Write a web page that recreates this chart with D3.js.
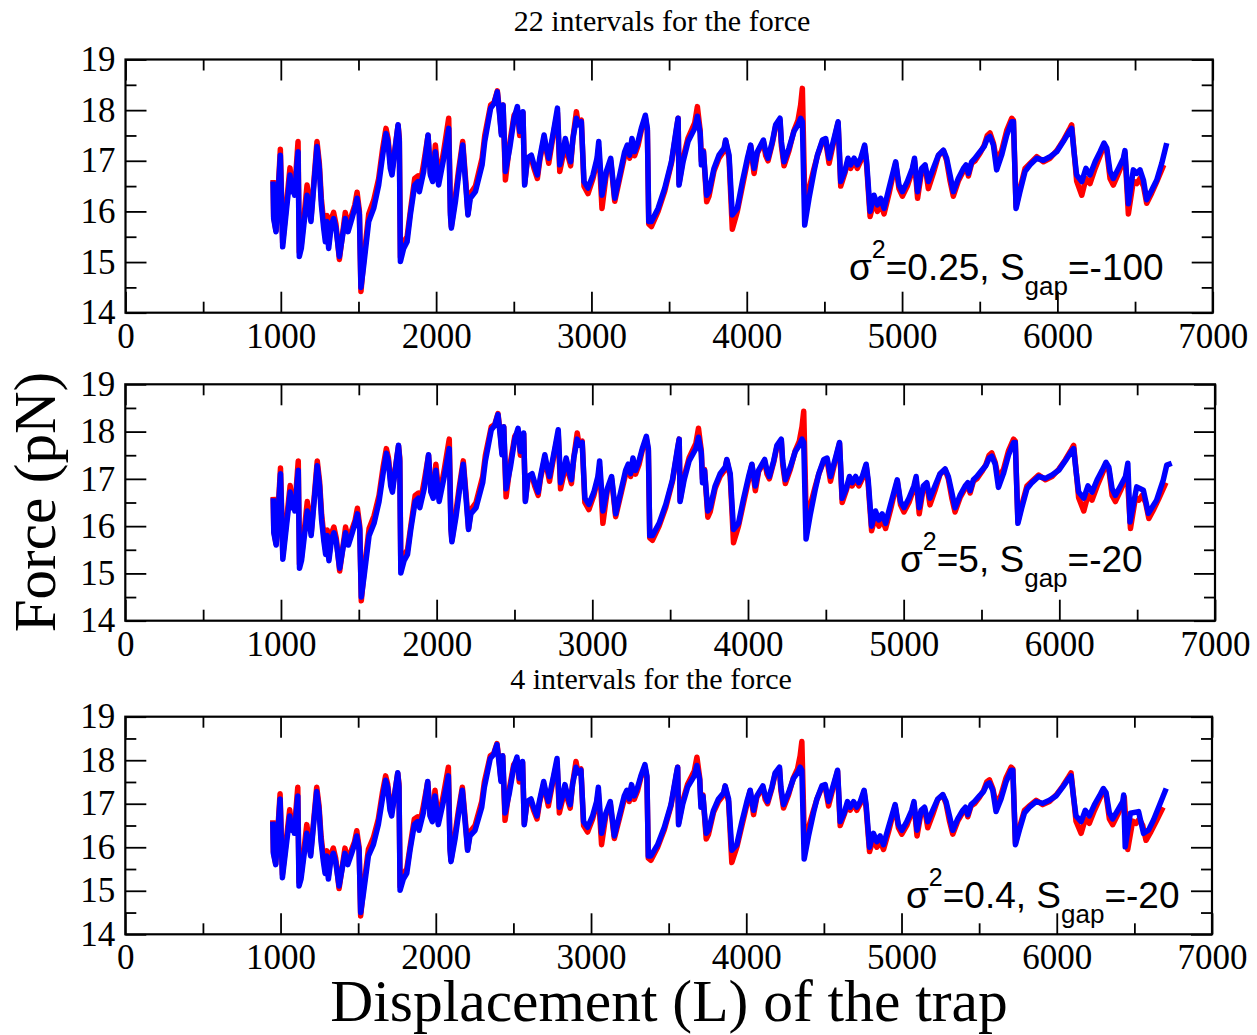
<!DOCTYPE html>
<html>
<head>
<meta charset="utf-8">
<script src="https://cdn.jsdelivr.net/npm/d3@7"></script>
<style>
  body { margin: 0; background: #fff; }
  svg { display: block; }
</style>
</head>
<body>
<svg id="chart" width="1257" height="1035"></svg>
<script>
// Trap displacement (L) shared by the measured curve and the fitted curves
const displacement = [
  950, 954, 969, 997, 1012, 1046, 1059, 1072, 1083, 1089,
  1111, 1119, 1132, 1169, 1184, 1194, 1233, 1248, 1261, 1276,
  1287, 1297, 1308, 1325, 1340, 1355, 1377, 1415, 1433, 1458,
  1476, 1491, 1506, 1516, 1534, 1566, 1598, 1630, 1656, 1677,
  1690, 1705, 1716, 1755, 1763, 1770, 1791, 1813, 1834, 1862,
  1883, 1892, 1920, 1948, 1963, 1978, 1995, 2016, 2049, 2081,
  2092, 2098, 2124, 2145, 2171, 2192, 2205, 2220, 2253, 2296,
  2313, 2351, 2373, 2394, 2409, 2420, 2431, 2446, 2474, 2502,
  2523, 2538, 2549, 2559, 2570, 2587, 2613, 2630, 2652, 2667,
  2695, 2710, 2725, 2759, 2781, 2796, 2817, 2832, 2849, 2866,
  2881, 2903, 2914, 2935, 2952, 2978, 3010, 3036, 3047, 3068,
  3096, 3124, 3150, 3182, 3214, 3231, 3246, 3261, 3278, 3300,
  3321, 3347, 3360, 3369, 3386, 3429, 3472, 3515, 3547, 3558,
  3564, 3590, 3622, 3665, 3682, 3700, 3708, 3721, 3742, 3757,
  3789, 3821, 3854, 3864, 3886, 3907, 3939, 3972, 4004, 4025,
  4047, 4068, 4107, 4122, 4137, 4165, 4186, 4214, 4223, 4240,
  4272, 4304, 4330, 4347, 4358, 4373, 4401, 4433, 4455, 4487,
  4508, 4530, 4562, 4588, 4605, 4631, 4652, 4669, 4691, 4712,
  4734, 4759, 4772, 4794, 4819, 4841, 4862, 4884, 4916, 4948,
  4959, 4980, 5002, 5034, 5066, 5080, 5100, 5126, 5148, 5169,
  5201, 5234, 5266, 5287, 5309, 5330, 5362, 5395, 5412, 5427,
  5448, 5470, 5502, 5528, 5549, 5566, 5588, 5609, 5641, 5674,
  5706, 5717, 5734, 5759, 5792, 5824, 5867, 5910, 5953, 5996,
  6038, 6077, 6092, 6107, 6124, 6157, 6184, 6210, 6243, 6275,
  6300, 6318, 6339, 6360, 6393, 6425
];

// Measured force (pN), red curve
const forceMeasured = [
  16.62, 15.90, 15.62, 17.23, 15.38, 16.45, 16.86, 16.50, 16.68, 16.40,
  17.38, 15.20, 15.35, 16.52, 16.15, 15.85, 17.38, 16.95, 16.25, 15.78,
  15.50, 15.92, 15.35, 15.85, 15.98, 15.75, 15.05, 15.98, 15.70, 15.95,
  16.12, 16.38, 16.00, 14.42, 15.05, 15.95, 16.22, 16.65, 17.25, 17.64,
  17.45, 16.95, 16.80, 17.70, 17.45, 15.10, 15.40, 15.50, 16.00, 16.65,
  16.70, 16.45, 16.95, 17.50, 16.75, 16.62, 17.31, 16.60, 17.20, 17.84,
  16.00, 15.70, 16.30, 16.82, 17.38, 16.55, 15.95, 16.35, 16.50, 17.05,
  17.50, 18.10, 18.15, 18.38, 17.95, 17.55, 18.10, 16.62, 17.35, 17.90,
  18.00, 17.50, 17.70, 17.95, 16.55, 17.00, 17.05, 16.85, 16.65, 17.00,
  17.45, 17.20, 16.95, 17.60, 17.95, 16.79, 17.10, 17.40, 17.10, 16.90,
  17.45, 17.97, 17.75, 17.80, 16.50, 16.35, 16.65, 17.00, 17.25, 16.06,
  16.75, 17.00, 16.20, 16.65, 17.10, 17.25, 17.05, 17.40, 17.10, 17.30,
  17.60, 17.85, 17.60, 15.75, 15.70, 16.00, 16.40, 16.95, 17.60, 17.84,
  16.55, 17.05, 17.45, 17.75, 18.07, 17.60, 17.00, 17.20, 16.19, 16.30,
  16.80, 17.05, 17.20, 17.40, 17.05, 15.65, 16.00, 16.50, 16.98, 17.30,
  16.75, 17.15, 17.38, 17.10, 17.00, 17.35, 17.68, 17.80, 17.30, 16.90,
  17.20, 17.60, 17.80, 18.10, 18.43, 16.32, 16.45, 16.85, 17.10, 17.38,
  17.40, 16.95, 17.40, 17.75, 16.50, 16.75, 17.00, 16.85, 17.00, 16.85,
  17.00, 17.28, 16.90, 15.90, 16.20, 16.00, 16.15, 15.95, 16.35, 16.80,
  16.95, 16.45, 16.30, 16.50, 16.80, 17.00, 16.26, 16.80, 16.90, 16.45,
  16.75, 17.10, 17.20, 17.00, 16.60, 16.30, 16.60, 16.80, 16.90, 16.70,
  16.95, 17.00, 17.15, 17.30, 17.50, 17.55, 17.35, 17.00, 17.20, 17.60,
  17.84, 17.80, 16.10, 16.45, 16.85, 16.95, 17.08, 16.98, 17.05, 17.20,
  17.40, 17.62, 17.71, 17.20, 16.60, 16.32, 16.65, 16.55, 16.85, 17.10,
  17.30, 17.20, 16.65, 16.52, 16.75, 17.00
];
const measuredTailX = [6435, 6457, 6489, 6511, 6532, 6554, 6575, 6607, 6640, 6685];
const measuredTailF = [17.15, 15.95, 16.60, 16.55, 16.65, 16.50, 16.16, 16.36, 16.59, 16.92];

// Model force (pN), blue curve, common part of the three fits
const forceModel = [
  16.59, 15.86, 15.60, 17.11, 15.30, 16.32, 16.72, 16.39, 16.59, 16.32,
  17.18, 15.11, 15.27, 16.32, 16.06, 15.80, 17.28, 16.85, 16.13, 15.67,
  15.40, 15.80, 15.27, 15.73, 15.86, 15.67, 15.11, 15.86, 15.60, 15.86,
  16.06, 16.26, 15.93, 14.50, 14.94, 15.80, 16.06, 16.52, 17.11, 17.54,
  17.38, 16.85, 16.72, 17.71, 17.38, 15.01, 15.27, 15.40, 15.93, 16.52,
  16.59, 16.39, 16.79, 17.51, 16.72, 16.59, 17.18, 16.52, 17.05, 17.64,
  15.93, 15.67, 16.19, 16.72, 17.31, 16.46, 15.93, 16.26, 16.39, 16.92,
  17.38, 18.04, 18.13, 18.36, 17.90, 17.51, 18.10, 16.79, 17.25, 17.84,
  18.07, 17.58, 17.71, 17.97, 16.52, 17.05, 17.11, 16.92, 16.72, 17.05,
  17.51, 17.25, 17.05, 17.64, 18.04, 16.92, 17.18, 17.44, 17.18, 16.98,
  17.44, 17.84, 17.71, 17.77, 16.59, 16.46, 16.72, 17.05, 17.38, 16.32,
  16.79, 17.05, 16.26, 16.72, 17.18, 17.31, 17.11, 17.44, 17.18, 17.38,
  17.64, 17.90, 17.64, 15.80, 15.80, 16.06, 16.46, 16.98, 17.64, 17.84,
  16.52, 16.98, 17.38, 17.64, 17.88, 17.55, 16.92, 17.18, 16.32, 16.39,
  16.85, 17.11, 17.25, 17.41, 17.11, 15.93, 16.06, 16.59, 17.05, 17.31,
  16.85, 17.18, 17.41, 17.18, 17.05, 17.38, 17.71, 17.84, 17.38, 16.98,
  17.25, 17.58, 17.71, 17.84, 17.77, 15.73, 16.26, 16.79, 17.11, 17.41,
  17.44, 17.05, 17.44, 17.77, 16.59, 16.79, 17.05, 16.92, 17.05, 16.92,
  17.05, 17.31, 16.98, 16.00, 16.32, 16.13, 16.26, 16.06, 16.46, 16.85,
  16.98, 16.52, 16.39, 16.59, 16.85, 17.05, 16.39, 16.85, 16.92, 16.59,
  16.85, 17.11, 17.21, 17.05, 16.72, 16.39, 16.65, 16.85, 16.92, 16.75,
  16.98, 17.05, 17.18, 17.28, 17.44, 17.48, 17.31, 16.82, 17.11, 17.51,
  17.77, 17.77, 16.06, 16.39, 16.79, 16.92, 17.05, 17.01, 17.08, 17.18,
  17.38, 17.58, 17.64, 17.18, 16.72, 16.59, 16.85, 16.72, 16.98, 17.18,
  17.35, 17.25, 16.79, 16.65, 16.85, 17.05
];

// Last stretch of each fit, where the three models part ways
const modelTailX22 = [6435, 6457, 6489, 6511, 6532, 6554, 6575, 6607, 6640, 6672, 6704];
const modelTailF22 = [17.20, 16.15, 16.82, 16.75, 16.82, 16.62, 16.23, 16.42, 16.62, 16.95, 17.35];
const modelTailXs5 = [6440, 6454, 6497, 6540, 6572, 6625, 6668, 6690, 6722];
const modelTailFs5 = [17.33, 16.09, 16.83, 16.76, 16.27, 16.55, 16.98, 17.29, 17.33];
const modelTailX4 = [6431, 6441, 6474, 6527, 6559, 6592, 6624, 6705];
const modelTailF4 = [17.20, 16.01, 16.78, 16.82, 16.32, 16.40, 16.63, 17.35];

// Axis ticks and panel texts
const xMajorTicks = [0, 1000, 2000, 3000, 4000, 5000, 6000, 7000];
const xMinorTicks = [500, 1500, 2500, 3500, 4500, 5500, 6500];
const yMajorTicks = [14, 15, 16, 17, 18, 19];
const yMinorTicks = [14.5, 15.5, 16.5, 17.5, 18.5];
const panelSigma = ["0.25", "5", "0.4"];
const panelGap = ["-100", "-20", "-20"];
const panelHeadings = ["22 intervals for the force", null, "4 intervals for the force"];

const zipPts = (xs, fs) => xs.map((x, i) => ({ x, f: fs[i] }));
const measuredPts = zipPts(displacement, forceMeasured).concat(zipPts(measuredTailX, measuredTailF));
const modelHead = zipPts(displacement, forceModel);
const modelPts = [
  modelHead.concat(zipPts(modelTailX22, modelTailF22)),
  modelHead.concat(zipPts(modelTailXs5, modelTailFs5)),
  modelHead.concat(zipPts(modelTailX4, modelTailF4))
];

const frames = [
  { left: 125.5, right: 1212.7, top: 59.5, bottom: 312.7, annX: 849, annY: 280 },
  { left: 125.3, right: 1215.0, top: 384.3, bottom: 620.7, annX: 900, annY: 572 },
  { left: 125.3, right: 1212.0, top: 716.7, bottom: 934.3, annX: 906, annY: 908 }
];

const SERIF = "'Liberation Serif', 'Times New Roman', serif";
const SANS = "'Liberation Sans', Arial, sans-serif";
const svg = d3.select("#chart");

frames.forEach((fr, i) => {
  const x = d3.scaleLinear().domain([0, 7000]).range([fr.left, fr.right]);
  const y = d3.scaleLinear().domain([14, 19]).range([fr.bottom, fr.top]);
  const g = svg.append("g");

  const line = d3.line().x(d => x(d.x)).y(d => y(d.f));
  g.append("path").datum(measuredPts).attr("d", line)
    .attr("fill", "none").attr("stroke", "#ff0000").attr("stroke-width", 5.5)
    .attr("stroke-linejoin", "round");
  g.append("path").datum(modelPts[i]).attr("d", line)
    .attr("fill", "none").attr("stroke", "#0000ff").attr("stroke-width", 5.5)
    .attr("stroke-linejoin", "round");

  // ticks on all four sides, pointing inward
  const addAxis = (axis, transform, labelled) => {
    const a = g.append("g").attr("transform", transform).call(axis);
    a.select(".domain").remove();
    a.selectAll(".tick line").attr("stroke", "#000").attr("stroke-width", 1.8);
    if (labelled) {
      a.selectAll(".tick text").attr("font-family", SERIF).attr("font-size", 35).attr("fill", "#000");
    } else {
      a.selectAll(".tick text").remove();
    }
    return a;
  };
  addAxis(d3.axisBottom(x).tickValues(xMajorTicks).tickSizeInner(-21).tickSizeOuter(0).tickPadding(10).tickFormat(d3.format("d")),
    `translate(0,${fr.bottom})`, true);
  addAxis(d3.axisBottom(x).tickValues(xMinorTicks).tickSizeInner(-11).tickSizeOuter(0),
    `translate(0,${fr.bottom})`, false);
  addAxis(d3.axisTop(x).tickValues(xMajorTicks).tickSizeInner(-21).tickSizeOuter(0),
    `translate(0,${fr.top})`, false);
  addAxis(d3.axisTop(x).tickValues(xMinorTicks).tickSizeInner(-11).tickSizeOuter(0),
    `translate(0,${fr.top})`, false);
  addAxis(d3.axisLeft(y).tickValues(yMajorTicks).tickSizeInner(-21).tickSizeOuter(0).tickPadding(10).tickFormat(d3.format("d")),
    `translate(${fr.left},0)`, true);
  addAxis(d3.axisLeft(y).tickValues(yMinorTicks).tickSizeInner(-11).tickSizeOuter(0),
    `translate(${fr.left},0)`, false);
  addAxis(d3.axisRight(y).tickValues(yMajorTicks).tickSizeInner(-21).tickSizeOuter(0),
    `translate(${fr.right},0)`, false);
  addAxis(d3.axisRight(y).tickValues(yMinorTicks).tickSizeInner(-11).tickSizeOuter(0),
    `translate(${fr.right},0)`, false);

  g.append("rect")
    .attr("x", fr.left).attr("y", fr.top)
    .attr("width", fr.right - fr.left).attr("height", fr.bottom - fr.top)
    .attr("fill", "none").attr("stroke", "#000").attr("stroke-width", 2.2);

  // parameter annotation: sigma^2 and S_gap
  const t = g.append("text").attr("x", fr.annX).attr("y", fr.annY)
    .attr("font-family", SANS).attr("font-size", 37).attr("fill", "#000");
  t.append("tspan").text("σ");
  t.append("tspan").attr("font-size", 25).attr("dy", -22).text("2");
  t.append("tspan").attr("dy", 22).text(`=${panelSigma[i]}, S`);
  t.append("tspan").attr("font-size", 26).attr("dy", 15).text("gap");
  t.append("tspan").attr("dy", -15).text(`=${panelGap[i]}`);
});

// panel headings
svg.append("text").attr("x", 662).attr("y", 31).attr("text-anchor", "middle")
  .attr("font-family", SERIF).attr("font-size", 30).text(panelHeadings[0]);
svg.append("text").attr("x", 651).attr("y", 689).attr("text-anchor", "middle")
  .attr("font-family", SERIF).attr("font-size", 30).text(panelHeadings[2]);

// axis titles
svg.append("text").attr("x", 669).attr("y", 1021).attr("text-anchor", "middle")
  .attr("font-family", SERIF).attr("font-size", 59.5).text("Displacement (L) of the trap");
svg.append("text").attr("transform", "translate(55,502) rotate(-90)").attr("text-anchor", "middle")
  .attr("font-family", SERIF).attr("font-size", 59).text("Force (pN)");
</script>
</body>
</html>
